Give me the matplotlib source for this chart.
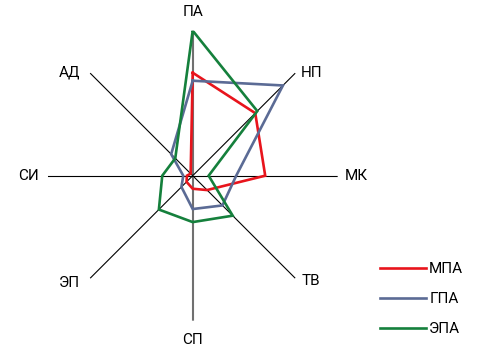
import numpy as np
import matplotlib
matplotlib.use('Agg')
import matplotlib.pyplot as plt

plt.rcParams['font.family'] = ['Roboto', 'DejaVu Sans']

categories = ['ПА', 'НП', 'МК', 'ТВ', 'СП', 'ЭП', 'СИ', 'АД']
series_names = ['МПА', 'ГПА', 'ЭПА']
mpa = [0.71, 0.61, 0.50, 0.14, 0.09, 0.06, 0.04, 0.02]
gpa = [0.655, 0.88, 0.30, 0.29, 0.23, 0.11, 0.065, 0.21]
epa = [1.00, 0.63, 0.11, 0.39, 0.32, 0.33, 0.21, 0.17]
colors = ['#e8141c', '#5b6b95', '#15803c']

fig = plt.figure(figsize=(4.78, 3.54), dpi=100)
ax = fig.add_axes([0.0998, 0.0941, 0.6067, 0.8192], projection='polar')
ax.set_theta_offset(np.pi / 2)
ax.set_theta_direction(-1)
ax.set_ylim(0, 1)
ax.axis('off')

n = len(categories)
theta = np.arange(n) * 2 * np.pi / n

for i, t in enumerate(theta):
    if i % 4 == 0:
        ax.plot([t, t], [0, 1], color='#707070', lw=1.5, zorder=1)
    else:
        ax.plot([t, t], [0, 1], color='black', lw=0.8, zorder=1)

for vals, name, c in zip([mpa, gpa, epa], series_names, colors):
    ax.plot(np.append(theta, theta[0]), list(vals) + [vals[0]], color=c,
            lw=1.9, label=name, zorder=2, solid_joinstyle='miter')

fs = 11
px = 0.72
for i, (t, lab) in enumerate(zip(theta, categories)):
    if i % 2 == 0:
        ax.text(t, 1.13, lab, ha='center', va='center', fontsize=fs)
    else:
        deg = np.degrees(t)
        if deg < 180:
            off = (6 * px, (0 if deg < 90 else -3) * px)
            ha = 'left'
        else:
            off = (-10 * px, (1 if deg > 270 else -5) * px)
            ha = 'right'
        ax.annotate(lab, xy=(t, 1.0), xytext=off, textcoords='offset points',
                    ha=ha, va='center', fontsize=fs)

fig.legend(loc='upper left', bbox_to_anchor=(380 / 478, 1 - 262 / 354),
           frameon=False, fontsize=fs, handlelength=3.0, handletextpad=0.22,
           labelspacing=1.05, borderpad=0, borderaxespad=0)

fig.savefig('out.png', dpi=100)
